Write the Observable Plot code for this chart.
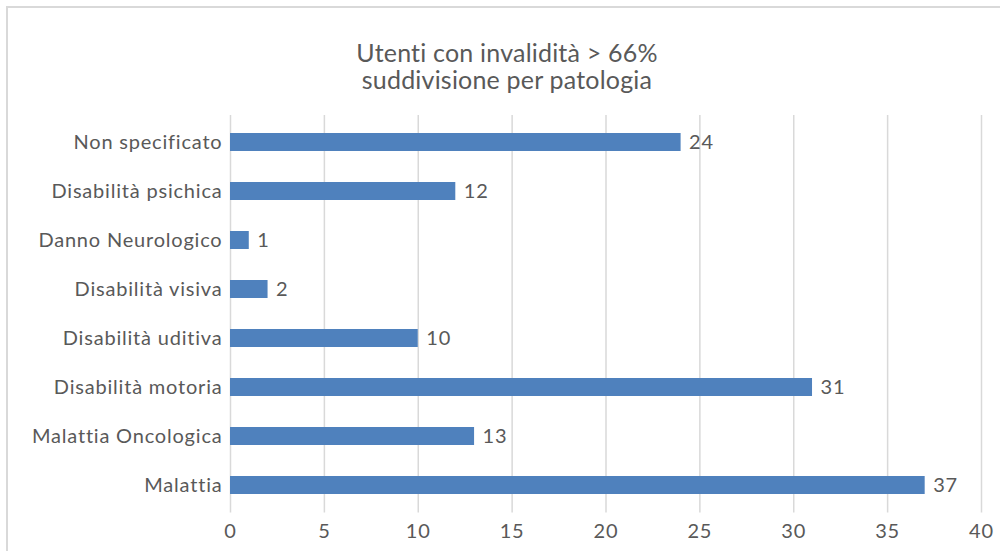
<!DOCTYPE html>
<html>
<head>
<meta charset="utf-8">
<script src="https://cdn.jsdelivr.net/npm/d3@7"></script>
<script src="https://cdn.jsdelivr.net/npm/@observablehq/plot@0.6"></script>
<style>
  html, body { margin: 0; padding: 0; background: #fff; overflow: hidden; }
  #wrap { position: relative; width: 1000px; height: 551px; font-family: Lato, "Open Sans", sans-serif; }
  #frame { position: absolute; left: 6px; top: 6px; width: 1010px; height: 560px; border-top: 2px solid #d9d9d9; border-left: 2px solid #d9d9d9; box-sizing: border-box; pointer-events: none; }
  #title { height: 110px; box-sizing: border-box; padding-top: 38.5px; padding-left: 14px; text-align: center; font-size: 25px; line-height: 27px; letter-spacing: 0.2px; color: #595959; }
  #chart svg { display: block; }
</style>
</head>
<body>
<div id="wrap">
  <div id="frame"></div>
  <div id="title">Utenti con invalidità &gt; 66%<br>suddivisione per patologia</div>
  <div id="chart"></div>
</div>
<script>
const categories = ["Non specificato", "Disabilità psichica", "Danno Neurologico", "Disabilità visiva", "Disabilità uditiva", "Disabilità motoria", "Malattia Oncologica", "Malattia"];
const values = [24, 12, 1, 2, 10, 31, 13, 37];
const xTicks = [0, 5, 10, 15, 20, 25, 30, 35, 40];

const data = categories.map((c, i) => ({category: c, value: values[i]}));

const chart = Plot.plot({
  width: 1000,
  height: 441,
  marginTop: 5,
  marginBottom: 38.4,
  marginLeft: 230,
  marginRight: 19,
  style: {fontFamily: "Lato, 'Open Sans', sans-serif", fontSize: "20px", letterSpacing: "0.8px", color: "#595959", background: "white"},
  x: {domain: [0, 40], ticks: xTicks, label: null, tickSize: 0, tickPadding: 11},
  y: {domain: categories, label: null, tickSize: 0, tickPadding: 8, paddingInner: 0.64, paddingOuter: 0.32},
  marks: [
    Plot.ruleX(xTicks, {stroke: "#d9d9d9", strokeWidth: 1.5}),
    Plot.barX(data, {y: "category", x: "value", fill: "#4f81bd"}),
    Plot.text(data, {y: "category", x: "value", text: d => String(d.value), textAnchor: "start", dx: 8, fill: "#595959", fontSize: 20})
  ]
});
document.getElementById("chart").appendChild(chart);
</script>
</body>
</html>
